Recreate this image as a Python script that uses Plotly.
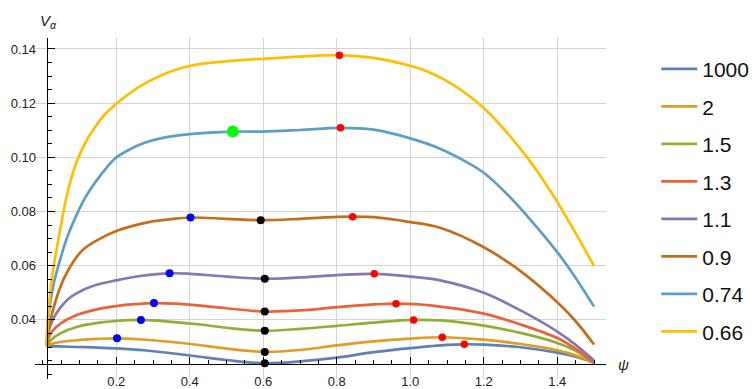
import plotly.graph_objects as go

# ---------------- data ----------------
labels = ["1000", "2", "1.5", "1.3", "1.1", "0.9", "0.74", "0.66"]
colors = ["#5E81B5", "#E19C24", "#8FB032", "#EB6235", "#8778B3", "#C56E1A", "#5D9EC7", "#FFBF00"]

psi_1000 = [0.0106, 0.05, 0.094, 0.15, 0.2, 0.275, 0.35, 0.428, 0.5, 0.604, 0.7, 0.8, 0.9, 1.0, 1.1, 1.147, 1.2, 1.3, 1.4, 1.45, 1.5]
v_1000 = [0.0303, 0.0302, 0.0300, 0.0298, 0.0295, 0.0288, 0.0277, 0.0264, 0.0252, 0.0240, 0.0247, 0.0261, 0.0281, 0.0296, 0.0308, 0.0310, 0.0309, 0.0299, 0.0279, 0.0264, 0.0242]

psi_2 = [0.0106, 0.02, 0.05, 0.094, 0.15, 0.202, 0.3, 0.402, 0.5, 0.604, 0.7, 0.8, 0.9, 1.0, 1.087, 1.2, 1.3, 1.4, 1.45, 1.5]
v_2 = [0.0303, 0.0310, 0.0319, 0.0325, 0.0330, 0.0332, 0.0325, 0.0311, 0.0294, 0.0282, 0.0289, 0.0306, 0.0321, 0.0331, 0.0336, 0.0327, 0.0311, 0.0288, 0.0269, 0.0242]

psi_15 = [0.0106, 0.02, 0.049, 0.094, 0.15, 0.2, 0.267, 0.35, 0.428, 0.5, 0.604, 0.7, 0.8, 0.9, 1.009, 1.081, 1.2, 1.3, 1.4, 1.45, 1.5]
v_15 = [0.0303, 0.0323, 0.0351, 0.0375, 0.0389, 0.0396, 0.0400, 0.0393, 0.0383, 0.0371, 0.0360, 0.0367, 0.0378, 0.0390, 0.0400, 0.0398, 0.0379, 0.0352, 0.0315, 0.0286, 0.0242]

psi_13 = [0.0106, 0.015, 0.025, 0.049, 0.094, 0.15, 0.2, 0.25, 0.3026, 0.36, 0.428, 0.5, 0.604, 0.7, 0.8, 0.9, 0.961, 1.06, 1.2, 1.3, 1.4, 1.45, 1.5]
v_13 = [0.0303, 0.0330, 0.0357, 0.0387, 0.0419, 0.0440, 0.0451, 0.0458, 0.0462, 0.0460, 0.0453, 0.0443, 0.0431, 0.0435, 0.0447, 0.0457, 0.0460, 0.0453, 0.0423, 0.0383, 0.0333, 0.0293, 0.0242]

psi_11 = [0.0106, 0.015, 0.0286, 0.049, 0.07, 0.094, 0.14, 0.2, 0.27, 0.345, 0.402, 0.5, 0.605, 0.7, 0.8, 0.902, 1.0, 1.081, 1.2, 1.3, 1.4, 1.45, 1.5]
v_11 = [0.0303, 0.0353, 0.0405, 0.0447, 0.0478, 0.0500, 0.0527, 0.0546, 0.0563, 0.0572, 0.0570, 0.0560, 0.0552, 0.0557, 0.0565, 0.0570, 0.0560, 0.0546, 0.0500, 0.0435, 0.0357, 0.0308, 0.0250]

psi_09 = [0.0106, 0.015, 0.022, 0.0305, 0.042, 0.06, 0.083, 0.11, 0.156, 0.2, 0.25, 0.292, 0.35, 0.402, 0.5, 0.593, 0.7, 0.8, 0.843, 0.9, 1.0, 1.081, 1.2, 1.308, 1.4, 1.45, 1.5]
v_09 = [0.0303, 0.0355, 0.0405, 0.0450, 0.0500, 0.0560, 0.0615, 0.0660, 0.0700, 0.0728, 0.0749, 0.0762, 0.0772, 0.0778, 0.0773, 0.0768, 0.0773, 0.0780, 0.0781, 0.0779, 0.0761, 0.0740, 0.0668, 0.0572, 0.0465, 0.0395, 0.0309]

psi_074 = [0.0106, 0.013, 0.02, 0.03, 0.045, 0.065, 0.09, 0.117, 0.155, 0.196, 0.235, 0.275, 0.33, 0.4, 0.517, 0.6, 0.7, 0.81, 0.9, 1.0, 1.081, 1.15, 1.2, 1.267, 1.33, 1.4, 1.45, 1.5]
v_074 = [0.0303, 0.0380, 0.0460, 0.0535, 0.0612, 0.0700, 0.0782, 0.0855, 0.0930, 0.0995, 0.1028, 0.1053, 0.1073, 0.1086, 0.1095, 0.1095, 0.1101, 0.1109, 0.1102, 0.1070, 0.1032, 0.0985, 0.0943, 0.0859, 0.0765, 0.0650, 0.0555, 0.0449]

psi_066 = [0.0106, 0.013, 0.018, 0.025, 0.035, 0.048, 0.0623, 0.078, 0.094, 0.12, 0.144, 0.17, 0.2, 0.24, 0.275, 0.339, 0.4, 0.5, 0.6, 0.7, 0.807, 0.9, 1.0, 1.05, 1.12, 1.2, 1.318, 1.389, 1.444, 1.5]
v_066 = [0.0303, 0.0390, 0.0470, 0.0555, 0.0640, 0.0738, 0.0840, 0.0925, 0.0990, 0.1065, 0.1115, 0.1160, 0.1198, 0.1240, 0.1270, 0.1312, 0.1338, 0.1355, 0.1364, 0.1372, 0.1377, 0.1367, 0.1338, 0.1315, 0.1265, 0.1182, 0.1000, 0.0859, 0.0734, 0.0598]

series_psi = [psi_1000, psi_2, psi_15, psi_13, psi_11, psi_09, psi_074, psi_066]
series_v = [v_1000, v_2, v_15, v_13, v_11, v_09, v_074, v_066]

# special points
blue_psi = [0.202, 0.267, 0.3026, 0.345, 0.402]
blue_v = [0.0332, 0.0400, 0.0462, 0.0572, 0.0778]
black_psi = [0.604, 0.604, 0.604, 0.604, 0.604, 0.593]
black_v = [0.0240, 0.0282, 0.0360, 0.0431, 0.0552, 0.0768]
red_psi = [1.147, 1.087, 1.009, 0.961, 0.902, 0.843, 0.810, 0.807]
red_v = [0.0310, 0.0336, 0.0400, 0.0460, 0.0570, 0.0781, 0.1109, 0.1377]
green_psi = [0.517]
green_v = [0.1095]

x_ticks = [0.2, 0.4, 0.6, 0.8, 1.0, 1.2, 1.4]
x_ticktext = ["0.2", "0.4", "0.6", "0.8", "1.0", "1.2", "1.4"]
x_minor = [0.0, 0.05, 0.1, 0.15, 0.25, 0.3, 0.35, 0.45, 0.5, 0.55, 0.65, 0.7, 0.75,
           0.85, 0.9, 0.95, 1.05, 1.1, 1.15, 1.25, 1.3, 1.35, 1.45, 1.5]
y_ticks = [0.04, 0.06, 0.08, 0.10, 0.12, 0.14]
y_ticktext = ["0.04", "0.06", "0.08", "0.10", "0.12", "0.14"]
y_minor = [0.02, 0.025, 0.03, 0.035, 0.045, 0.05, 0.055, 0.065, 0.07, 0.075, 0.085, 0.09,
           0.095, 0.105, 0.11, 0.115, 0.125, 0.13, 0.135]

# ---------------- figure ----------------
fig = go.Figure()
for name, col, xs, ys in zip(labels, colors, series_psi, series_v):
    fig.add_trace(go.Scatter(
        x=xs, y=ys, mode="lines", name=name, legendgroup=name,
        line=dict(color=col, width=2.7, shape="spline", smoothing=1.0),
    ))

def dots(xs, ys, col, size):
    fig.add_trace(go.Scatter(x=xs, y=ys, mode="markers", showlegend=False,
                             marker=dict(color=col, size=size, line=dict(width=0))))

dots(blue_psi, blue_v, "#0000FF", 8)
dots(black_psi, black_v, "#000000", 8)
dots(red_psi, red_v, "#FF0000", 7.5)
dots(green_psi, green_v, "#00FF00", 12)

XR = [-0.0212, 1.5325]
YR = [0.01819, 0.14405]
x_axis_at_v = 0.02375
y_axis_at_psi = 0.0106

fig.update_layout(
    width=755, height=389,
    margin=dict(l=35, r=149, t=38, b=0),
    paper_bgcolor="white", plot_bgcolor="white",
    font=dict(family="Liberation Sans, Arial, sans-serif", color="#222", size=13),
    xaxis=dict(
        range=XR, anchor="free",
        position=(x_axis_at_v - YR[0]) / (YR[1] - YR[0]),
        tickmode="array", tickvals=x_ticks, ticktext=x_ticktext,
        ticks="inside", ticklen=7, tickcolor="black", tickwidth=1,
        showline=True, linecolor="black", linewidth=1,
        showgrid=True, gridcolor="#d4d4d4", gridwidth=1,
        zeroline=False, ticklabelstandoff=5,
        minor=dict(tickmode="array", tickvals=x_minor, ticks="inside", ticklen=4,
                   tickcolor="black", showgrid=False),
    ),
    yaxis=dict(
        range=YR, anchor="free",
        position=(y_axis_at_psi - XR[0]) / (XR[1] - XR[0]),
        tickmode="array", tickvals=y_ticks, ticktext=y_ticktext,
        ticks="inside", ticklen=7, tickcolor="black", tickwidth=1,
        showline=True, linecolor="black", linewidth=1,
        showgrid=True, gridcolor="#d4d4d4", gridwidth=1,
        zeroline=False, ticklabelstandoff=8,
        minor=dict(tickmode="array", tickvals=y_minor, ticks="inside", ticklen=4,
                   tickcolor="black", showgrid=False),
    ),
    legend=dict(x=1.088, y=0.9687, xanchor="left", yanchor="top",
                font=dict(size=21, color="#111"), tracegroupgap=7.2,
                itemwidth=36, bgcolor="rgba(0,0,0,0)"),
    showlegend=True,
    annotations=[
        dict(text="<i>V</i><sub><i>α</i></sub>", xref="paper", yref="paper",
             x=0.0053, y=1.048, xanchor="left", yanchor="middle", showarrow=False,
             font=dict(size=15, color="#222")),
        dict(text="<i>ψ</i>", xref="paper", yref="paper",
             x=1.0298, y=0.0427, xanchor="center", yanchor="middle", showarrow=False,
             font=dict(size=15, color="#222")),
    ],
)

fig.write_html("out.html")
